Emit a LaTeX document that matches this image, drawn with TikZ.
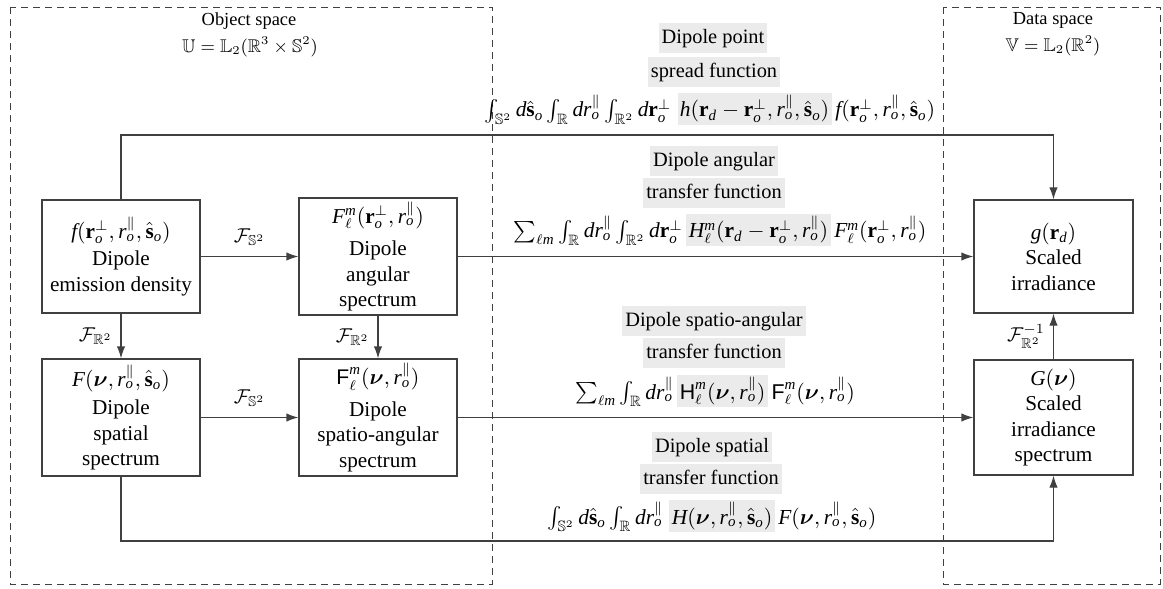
\documentclass[tikz,border=0pt]{standalone}
\usepackage{amssymb}
\usepackage{bm}
\usepackage{fontspec}
\setmainfont{Liberation Serif}
\newfontfamily\sansF{Liberation Sans}
\DeclareSymbolFont{tletters}{TU}{\rmdefault}{m}{it}
\DeclareMathSymbol{d}{\mathalpha}{tletters}{`d}
\DeclareMathSymbol{f}{\mathalpha}{tletters}{`f}
\DeclareMathSymbol{g}{\mathalpha}{tletters}{`g}
\DeclareMathSymbol{h}{\mathalpha}{tletters}{`h}
\DeclareMathSymbol{m}{\mathalpha}{tletters}{`m}
\DeclareMathSymbol{o}{\mathalpha}{tletters}{`o}
\DeclareMathSymbol{r}{\mathalpha}{tletters}{`r}
\DeclareMathSymbol{F}{\mathalpha}{tletters}{`F}
\DeclareMathSymbol{G}{\mathalpha}{tletters}{`G}
\DeclareMathSymbol{H}{\mathalpha}{tletters}{`H}
\usetikzlibrary{arrows.meta}
\newcommand\hlbox[1]{{\setlength\fboxsep{1.2pt}\colorbox{black!8}{$#1$}}}
\newcommand\sfF{\mbox{\sansF F}}
\newcommand\sfH{\mbox{\sansF H}}
\tikzset{
  every node/.style={font=\fontsize{10.2}{12.5}\selectfont},
  blk/.style={draw=black!75, line width=0.6pt, align=center, inner sep=1pt, minimum width=79pt, font=\fontsize{10.6}{12.8}\selectfont},
  arr/.style={draw=black!75, line width=0.6pt, -{Latex[length=6pt,width=4.2pt]}},
  region/.style={draw=black!75, line width=0.5pt, dash pattern=on 3.5pt off 2.5pt},
  glabel/.style={fill=black!8, inner xsep=1.5pt, inner ysep=1.75pt, text height=8.5pt, text depth=3pt},
  flabel/.style={inner sep=0pt, font=\fontsize{10.7}{13}\selectfont},
  ttl/.style={font=\fontsize{9.2}{11}\selectfont, inner sep=0pt},
  oplab/.style={inner sep=2pt}
}
\begin{document}
\begin{tikzpicture}[x=0.5pt, y=-0.5pt]
\useasboundingbox (0,0) rectangle (1163,589);
% regions
\draw[region] (10,7) rectangle (492,584);
\draw[region] (943,7) rectangle (1160,584);
\node[ttl] (objt) at (249,21) {Object space};
\node[ttl] (objs) at (250,47) {$\mathbb{U} = \mathbb{L}_2(\mathbb{R}^3 \times \mathbb{S}^2)$};
\node[ttl] (datt) at (1053,20) {Data space};
\node[ttl] (dats) at (1053,46) {$\mathbb{V} = \mathbb{L}_2(\mathbb{R}^2)$};
% blocks
\node[blk, minimum height=56.5pt] (A) at (121,256.5) {$f(\mathbf{r}_o^{\perp}, r_o^{\parallel}, \hat{\mathbf{s}}_o)$\\[1pt]Dipole\\emission density};
\node[blk, minimum height=58.5pt] (B) at (378,256.5) {$F_\ell^m(\mathbf{r}_o^{\perp}, r_o^{\parallel})$\\[3.5pt]Dipole\\angular\\spectrum};
\node[blk, minimum height=58.5pt] (C) at (121,417.5) {$F(\bm{\nu}, r_o^{\parallel}, \hat{\mathbf{s}}_o)$\\[1.5pt]Dipole\\spatial\\spectrum};
\node[blk, minimum height=58.5pt] (D) at (378,417.5) {$\sfF_\ell^m(\bm{\nu}, r_o^{\parallel})$\\[3pt]Dipole\\spatio-angular\\spectrum};
\node[blk, minimum height=56.5pt, minimum width=79.5pt] (E) at (1053.5,256.5) {$g(\mathbf{r}_d)$\\Scaled\\irradiance};
\node[blk, minimum height=57.5pt, minimum width=79.5pt] (G) at (1053.5,417.5) {$G(\bm{\nu})$\\Scaled\\irradiance\\spectrum};
% transfer labels
\node[glabel] (l1a) at (713,38) {Dipole point};
\node[glabel] (l1b) at (714,72) {spread function};
\node[flabel] (l1c) at (710,109) {$\int_{\mathbb{S}^2} d\hat{\mathbf{s}}_o \int_{\mathbb{R}} dr_o^{\parallel} \int_{\mathbb{R}^2} d\mathbf{r}_o^{\perp}\;\hlbox{h(\mathbf{r}_d - \mathbf{r}_o^{\perp}, r_o^{\parallel}, \hat{\mathbf{s}}_o)}\, f(\mathbf{r}_o^{\perp}, r_o^{\parallel}, \hat{\mathbf{s}}_o)$};
\node[glabel] (l2a) at (714,161) {Dipole angular};
\node[glabel] (l2b) at (714,193) {transfer function};
\node[flabel] (l2c) at (720,230) {$\sum_{\ell m} \int_{\mathbb{R}} dr_o^{\parallel} \int_{\mathbb{R}^2} d\mathbf{r}_o^{\perp}\,\hlbox{H_\ell^m(\mathbf{r}_d - \mathbf{r}_o^{\perp}, r_o^{\parallel})}\, F_\ell^m(\mathbf{r}_o^{\perp}, r_o^{\parallel})$};
\node[glabel] (l3a) at (714,321) {Dipole spatio-angular};
\node[glabel] (l3b) at (714,353) {transfer function};
\node[flabel] (l3c) at (715,391) {$\sum_{\ell m} \int_{\mathbb{R}} dr_o^{\parallel}\,\hlbox{\sfH_\ell^m(\bm{\nu}, r_o^{\parallel})}\, \sfF_\ell^m(\bm{\nu}, r_o^{\parallel})$};
\node[glabel] (l4a) at (712,447) {Dipole spatial};
\node[glabel] (l4b) at (711,479) {transfer function};
\node[flabel] (l4c) at (712,516) {$\int_{\mathbb{S}^2} d\hat{\mathbf{s}}_o \int_{\mathbb{R}} dr_o^{\parallel}\;\hlbox{H(\bm{\nu}, r_o^{\parallel}, \hat{\mathbf{s}}_o)}\, F(\bm{\nu}, r_o^{\parallel}, \hat{\mathbf{s}}_o)$};
% connectors
\coordinate (topy) at (0,135);
\coordinate (boty) at (0,541);
\draw[arr] (A.north) -- (A.north |- topy) -| (E.north);
\draw[arr] (C.south) -- (C.south |- boty) -| (G.south);
\draw[arr] (A.east) -- node[oplab, above=3pt] {$\mathcal{F}_{\mathbb{S}^2}$} (B.west);
\draw[arr] (C.east) -- node[oplab, above=3pt] {$\mathcal{F}_{\mathbb{S}^2}$} (D.west);
\draw[arr] (A.south) -- node[oplab, left=2pt] {$\mathcal{F}_{\mathbb{R}^2}$} (C.north);
\draw[arr] (B.south) -- node[oplab, left=2pt] {$\mathcal{F}_{\mathbb{R}^2}$} (D.north);
\draw[arr] (G.north) -- node[oplab, left=2pt] {$\mathcal{F}^{-1}_{\mathbb{R}^2}$} (E.south);
\draw[arr] (B.east) -- (E.west);
\draw[arr] (D.east) -- (G.west);
\end{tikzpicture}
\end{document}
